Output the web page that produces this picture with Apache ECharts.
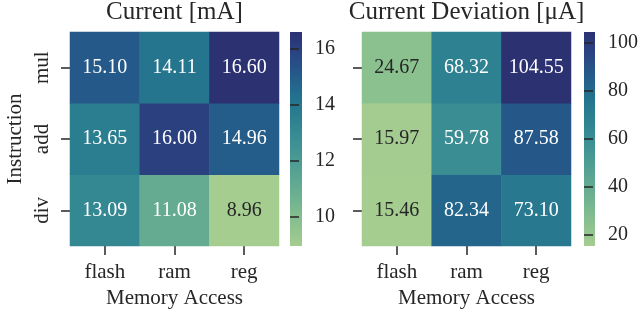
<!DOCTYPE html>
<html>
<head>
<meta charset="utf-8">
<script src="https://cdn.jsdelivr.net/npm/echarts@6/dist/echarts.min.js"></script>
<style>
  html, body { margin: 0; padding: 0; background: #fff; }
</style>
</head>
<body>
<div id="main" style="width: 644px;height:314px;"></div>
<script type="text/javascript">
    // data
    var memoryAccess = ['flash', 'ram', 'reg'];
    var instructions = ['div', 'add', 'mul'];   // bottom -> top

    var currentMul = [15.10, 14.11, 16.60];
    var currentAdd = [13.65, 16.00, 14.96];
    var currentDiv = [13.09, 11.08, 8.96];

    var devMul = [24.67, 68.32, 104.55];
    var devAdd = [15.97, 59.78, 87.58];
    var devDiv = [15.46, 82.34, 73.10];

    var currentTicks = [10, 12, 14, 16];
    var devTicks = [20, 40, 60, 80, 100];

    // seaborn "crest" approximation
    var crest = ['#a5cd90', '#8cc18f', '#74b590', '#5fa892', '#4c9b93', '#3a8e93',
                 '#2c8090', '#23718e', '#255a89', '#2a4483', '#2c3172'];

    var FONT = 'Liberation Serif';
    var INK = '#262626';

    function hexToRgb(h) {
        return [parseInt(h.substr(1, 2), 16), parseInt(h.substr(3, 2), 16), parseInt(h.substr(5, 2), 16)];
    }
    function crestAt(t) {
        t = Math.max(0, Math.min(1, t));
        var p = t * (crest.length - 1);
        var i = Math.min(Math.floor(p), crest.length - 2);
        var f = p - i;
        var a = hexToRgb(crest[i]), b = hexToRgb(crest[i + 1]);
        return [0, 1, 2].map(function (k) { return a[k] + (b[k] - a[k]) * f; });
    }
    function luminance(rgb) {
        var c = rgb.map(function (v) {
            v = v / 255;
            return v <= 0.03928 ? v / 12.92 : Math.pow((v + 0.055) / 1.055, 2.4);
        });
        return 0.2126 * c[0] + 0.7152 * c[1] + 0.0722 * c[2];
    }

    function buildCells(rows, min, max) {
        var out = [];
        rows.forEach(function (row, y) {
            row.forEach(function (v, x) {
                var lum = luminance(crestAt((v - min) / (max - min)));
                out.push({
                    value: [x, y, v],
                    label: { color: lum > 0.408 ? INK : '#ffffff' }
                });
            });
        });
        return out;
    }

    var curMin = Math.min.apply(null, currentMul.concat(currentAdd, currentDiv));
    var curMax = Math.max.apply(null, currentMul.concat(currentAdd, currentDiv));
    var devMin = Math.min.apply(null, devMul.concat(devAdd, devDiv));
    var devMax = Math.max.apply(null, devMul.concat(devAdd, devDiv));

    var curCells = buildCells([currentDiv, currentAdd, currentMul], curMin, curMax);
    var devCells = buildCells([devDiv, devAdd, devMul], devMin, devMax);

    // colorbar fill: bottom = min, top = max
    function crestGradient() {
        return new echarts.graphic.LinearGradient(0, 1, 0, 0, crest.map(function (c, i) {
            return { offset: i / (crest.length - 1), color: c };
        }));
    }

    function heatX(idx) {
        return {
            type: 'category', gridIndex: idx, data: memoryAccess,
            axisLine: { show: false },
            axisTick: { show: true, length: 9, alignWithLabel: true, lineStyle: { color: INK, width: 1.5 } },
            axisLabel: { color: INK, fontFamily: FONT, fontSize: 21, margin: 16 },
            splitLine: { show: false },
            name: 'Memory Access', nameLocation: 'middle', nameGap: 42,
            nameTextStyle: { color: INK, fontFamily: FONT, fontSize: 21 }
        };
    }
    function heatY(idx, showLabels) {
        var ax = {
            type: 'category', gridIndex: idx, data: instructions,
            axisLine: { show: false },
            axisTick: { show: true, length: 9, alignWithLabel: true, lineStyle: { color: INK, width: 1.5 } },
            axisLabel: { show: showLabels, rotate: 90, color: INK, fontFamily: FONT, fontSize: 21, margin: 17 },
            splitLine: { show: false }
        };
        if (showLabels) {
            ax.name = 'Instruction';
            ax.nameLocation = 'middle';
            ax.nameRotate = 90;
            ax.nameGap = 44;
            ax.nameTextStyle = { color: INK, fontFamily: FONT, fontSize: 21 };
        }
        return ax;
    }
    function barY(idx, min, max, ticks) {
        return {
            type: 'value', gridIndex: idx, min: min, max: max, position: 'right',
            axisLine: { show: false },
            splitLine: { show: false },
            axisTick: { show: true, length: 9, customValues: ticks, lineStyle: { color: INK, width: 1.5 } },
            axisLabel: { customValues: ticks, color: INK, fontFamily: FONT, fontSize: 20, margin: 13 }
        };
    }

    var labelStyle = { show: true, fontFamily: FONT, fontSize: 20, formatter: function (p) { return p.value[2].toFixed(2); } };

    var myChart = echarts.init(document.getElementById('main'));
    var option = {
        animation: false,
        textStyle: { fontFamily: FONT },
        title: [
            { text: 'Current [mA]', left: 174.5, top: 0, textAlign: 'center', padding: 0,
              textStyle: { fontFamily: FONT, fontSize: 25, fontWeight: 'normal', color: INK } },
            { text: 'Current Deviation [μA]', left: 466.5, top: 0, textAlign: 'center', padding: 0,
              textStyle: { fontFamily: FONT, fontSize: 25, fontWeight: 'normal', color: INK } }
        ],
        grid: [
            { left: 70, top: 32, width: 209, height: 214, outerBoundsMode: 'none' },
            { left: 362, top: 32, width: 209, height: 214, outerBoundsMode: 'none' },
            { left: 290, top: 32, width: 12, height: 214, outerBoundsMode: 'none',
              show: true, borderWidth: 0, backgroundColor: crestGradient() },
            { left: 584, top: 32, width: 11, height: 214, outerBoundsMode: 'none',
              show: true, borderWidth: 0, backgroundColor: crestGradient() }
        ],
        xAxis: [
            heatX(0), heatX(1),
            { type: 'value', gridIndex: 2, show: false },
            { type: 'value', gridIndex: 3, show: false }
        ],
        yAxis: [
            heatY(0, true), heatY(1, false),
            barY(2, curMin, curMax, currentTicks),
            barY(3, devMin, devMax, devTicks)
        ],
        visualMap: [
            { type: 'continuous', show: false, seriesIndex: 0, min: curMin, max: curMax,
              inRange: { color: crest } },
            { type: 'continuous', show: false, seriesIndex: 1, min: devMin, max: devMax,
              inRange: { color: crest } }
        ],
        series: [
            { type: 'heatmap', xAxisIndex: 0, yAxisIndex: 0, data: curCells, label: labelStyle,
              emphasis: { disabled: true } },
            { type: 'heatmap', xAxisIndex: 1, yAxisIndex: 1, data: devCells, label: labelStyle,
              emphasis: { disabled: true } }
        ]
    };
    myChart.setOption(option);
</script>
</body>
</html>
